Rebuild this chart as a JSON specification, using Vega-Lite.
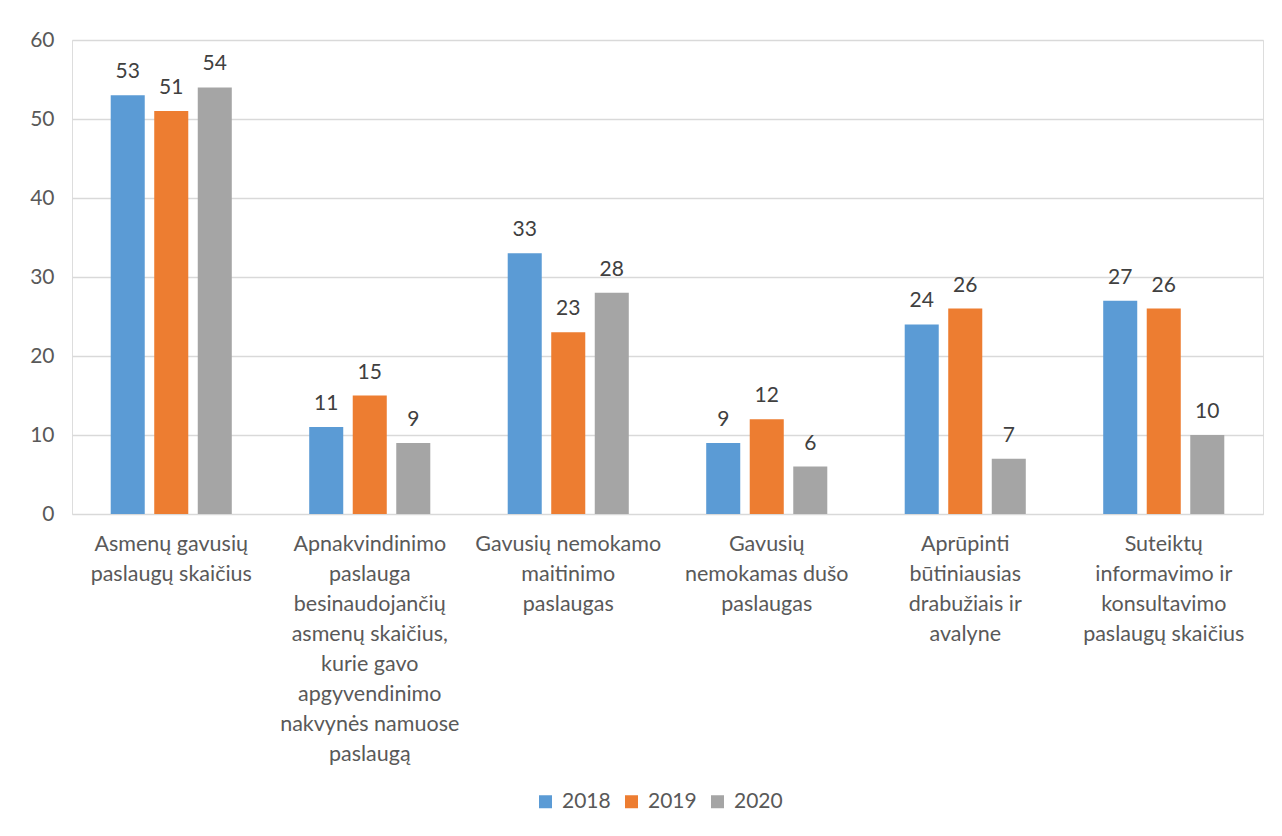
{
  "$schema": "https://vega.github.io/schema/vega-lite/v6.json",
  "width": 1191,
  "height": 474,
  "autosize": {"type": "none"},
  "padding": {"left": 72, "top": 40, "right": 19, "bottom": 322},
  "background": "white",
  "data": {
    "values": [
      {"kategorija": "Asmenų gavusių|paslaugų skaičius", "metai": "2018", "reiksme": 53},
      {"kategorija": "Asmenų gavusių|paslaugų skaičius", "metai": "2019", "reiksme": 51},
      {"kategorija": "Asmenų gavusių|paslaugų skaičius", "metai": "2020", "reiksme": 54},
      {"kategorija": "Apnakvindinimo|paslauga|besinaudojančių|asmenų skaičius,|kurie gavo|apgyvendinimo|nakvynės namuose|paslaugą", "metai": "2018", "reiksme": 11},
      {"kategorija": "Apnakvindinimo|paslauga|besinaudojančių|asmenų skaičius,|kurie gavo|apgyvendinimo|nakvynės namuose|paslaugą", "metai": "2019", "reiksme": 15},
      {"kategorija": "Apnakvindinimo|paslauga|besinaudojančių|asmenų skaičius,|kurie gavo|apgyvendinimo|nakvynės namuose|paslaugą", "metai": "2020", "reiksme": 9},
      {"kategorija": "Gavusių nemokamo|maitinimo|paslaugas", "metai": "2018", "reiksme": 33},
      {"kategorija": "Gavusių nemokamo|maitinimo|paslaugas", "metai": "2019", "reiksme": 23},
      {"kategorija": "Gavusių nemokamo|maitinimo|paslaugas", "metai": "2020", "reiksme": 28},
      {"kategorija": "Gavusių|nemokamas dušo|paslaugas", "metai": "2018", "reiksme": 9},
      {"kategorija": "Gavusių|nemokamas dušo|paslaugas", "metai": "2019", "reiksme": 12},
      {"kategorija": "Gavusių|nemokamas dušo|paslaugas", "metai": "2020", "reiksme": 6},
      {"kategorija": "Aprūpinti|būtiniausias|drabužiais ir|avalyne", "metai": "2018", "reiksme": 24},
      {"kategorija": "Aprūpinti|būtiniausias|drabužiais ir|avalyne", "metai": "2019", "reiksme": 26},
      {"kategorija": "Aprūpinti|būtiniausias|drabužiais ir|avalyne", "metai": "2020", "reiksme": 7},
      {"kategorija": "Suteiktų|informavimo ir|konsultavimo|paslaugų skaičius", "metai": "2018", "reiksme": 27},
      {"kategorija": "Suteiktų|informavimo ir|konsultavimo|paslaugų skaičius", "metai": "2019", "reiksme": 26},
      {"kategorija": "Suteiktų|informavimo ir|konsultavimo|paslaugų skaičius", "metai": "2020", "reiksme": 10}
    ]
  },
  "encoding": {
    "x": {
      "field": "kategorija",
      "type": "nominal",
      "sort": null,
      "title": null,
      "scale": {"paddingInner": 0.39, "paddingOuter": 0.195},
      "axis": {
        "labelExpr": "split(datum.label, '|')",
        "labelAngle": 0,
        "labelAlign": "center",
        "labelBaseline": "top",
        "labelLineHeight": 30,
        "labelPadding": 19,
        "labelFont": "Lato",
        "labelFontSize": 21.5,
        "labelColor": "#595959",
        "labelLimit": 0,
        "ticks": false,
        "domain": false,
        "grid": false
      }
    },
    "xOffset": {
      "field": "metai",
      "type": "nominal",
      "scale": {"paddingInner": 0.218, "paddingOuter": 0}
    },
    "y": {
      "field": "reiksme",
      "type": "quantitative",
      "title": null,
      "scale": {"domain": [0, 60], "nice": false},
      "axis": {
        "values": [0, 10, 20, 30, 40, 50, 60],
        "labelFont": "Lato",
        "labelFontSize": 21,
        "labelColor": "#595959",
        "labelPadding": 18,
        "ticks": false,
        "domain": false,
        "grid": true,
        "gridColor": "#d9d9d9",
        "gridWidth": 1.3
      }
    }
  },
  "layer": [
    {
      "mark": {"type": "bar"},
      "encoding": {
        "color": {
          "field": "metai",
          "type": "nominal",
          "title": null,
          "scale": {"domain": ["2018", "2019", "2020"], "range": ["#5B9BD5", "#ED7D31", "#A5A5A5"]},
          "legend": {
            "orient": "none",
            "legendX": 463,
            "legendY": 751,
            "direction": "horizontal",
            "symbolType": "square",
            "symbolSize": 169,
            "symbolStrokeWidth": 0,
            "labelFont": "Lato",
            "labelFontSize": 21,
            "labelColor": "#595959",
            "columnPadding": 10,
            "labelOffset": 6,
            "padding": 0
          }
        }
      }
    },
    {
      "mark": {"type": "text", "baseline": "alphabetic", "dy": -17, "font": "Lato", "fontSize": 21, "color": "#404040"},
      "encoding": {
        "text": {"field": "reiksme", "type": "quantitative"}
      }
    }
  ]
}
